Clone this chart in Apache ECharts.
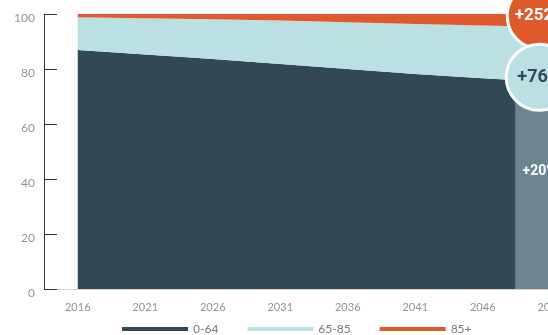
<!DOCTYPE html>
<html><head><meta charset="utf-8">
<script src="https://cdn.jsdelivr.net/npm/echarts@6/dist/echarts.min.js"></script>
<style>html,body{margin:0;padding:0;background:#fff}#c{width:548px;height:335px}</style>
</head><body><div id="c"></div>
<script>
var years = ['2016','2021','2026','2031','2036','2041','2046','2051'];
var age0to64 = [86.9, 85.3, 83.6, 81.8, 80.0, 78.2, 76.6, 75.2];
var age65to85 = [11.9, 13.2, 14.5, 15.8, 17.0, 18.2, 19.2, 20.1];
var age85plus = [1.2, 1.5, 1.9, 2.4, 3.0, 3.6, 4.2, 4.7];
var growthLabels = ['+20%', '+76%', '+252%'];
var growthBarValue = 75.2;
var circleY = [77, 99.3];

var DARK = '#324955', LIGHT = '#bae0e4', ORANGE = '#de5a2a', GREY = '#6e8491';
var chart = echarts.init(document.getElementById('c'));
var last = years.length - 1;
function lastOnly(v){ return years.map(function(y,i){ return i===last ? v : '-'; }); }

chart.setOption({
  animation: false,
  textStyle: {fontFamily: 'Lato'},
  grid: {left: 44, width: 540, top: 14, height: 275, outerBoundsMode: 'none', containLabel: false},
  legend: {
    top: 323, left: 122, padding: 0,
    itemWidth: 66, itemHeight: 4, itemGap: 29,
    icon: 'rect',
    textStyle: {color: '#6d7a84', fontSize: 12, fontFamily: 'Lato', padding: [13,0,0,0]},
    data: ['0-64', '65-85', '85+']
  },
  xAxis: {
    type: 'category', data: years, boundaryGap: true,
    axisLine: {lineStyle: {color: '#d0d5d8', width: 1}},
    axisTick: {show: false},
    axisLabel: {color: '#8a969f', fontSize: 11, margin: 13}
  },
  yAxis: {
    type: 'value', min: 0, max: 100, interval: 20,
    axisLine: {show: true, lineStyle: {color: '#333', width: 1}},
    axisTick: {show: true, inside: true, length: 13, lineStyle: {color: '#333'}},
    splitLine: {show: false},
    axisLabel: {color: '#8a969f', fontSize: 12, margin: 9, verticalAlign: 'top', lineHeight: 8}
  },
  series: [
    {name: '0-64', type: 'line', stack: 't', data: age0to64, symbol: 'none',
     lineStyle: {width: 0}, areaStyle: {color: DARK, opacity: 1}, itemStyle: {color: DARK}, z: 2},
    {name: '65-85', type: 'line', stack: 't', data: age65to85, symbol: 'none',
     lineStyle: {width: 0}, areaStyle: {color: LIGHT, opacity: 1}, itemStyle: {color: LIGHT}, z: 2},
    {name: '85+', type: 'line', stack: 't', data: age85plus, symbol: 'none',
     lineStyle: {width: 0}, areaStyle: {color: ORANGE, opacity: 1}, itemStyle: {color: ORANGE}, z: 2},
    {name: 'bar', type: 'bar', data: lastOnly(growthBarValue), barWidth: 70,
     itemStyle: {color: GREY}, z: 3,
     label: {show: true, position: 'inside', offset: [-10, -14], formatter: growthLabels[0],
             color: '#fff', fontSize: 14, fontWeight: 'bold', fontFamily: 'Roboto'}},
    {name: 'c1', type: 'scatter', data: lastOnly(circleY[1]), symbol: 'circle', symbolSize: 66,
     symbolOffset: [-10, 0], z: 4,
     itemStyle: {color: ORANGE, borderColor: '#fff', borderWidth: 3, opacity: 1},
     label: {show: true, position: 'inside', formatter: growthLabels[2], color: '#fff',
             fontSize: 17, fontWeight: 'bold', fontFamily: 'Roboto'}},
    {name: 'c2', type: 'scatter', data: lastOnly(circleY[0]), symbol: 'circle', symbolSize: 66,
     symbolOffset: [-11, 0], z: 5,
     itemStyle: {color: LIGHT, borderColor: '#fff', borderWidth: 3, opacity: 1},
     label: {show: true, position: 'inside', formatter: growthLabels[1], color: DARK,
             fontSize: 18, fontWeight: 'bold', fontFamily: 'Roboto'}}
  ]
});
</script></body></html>
